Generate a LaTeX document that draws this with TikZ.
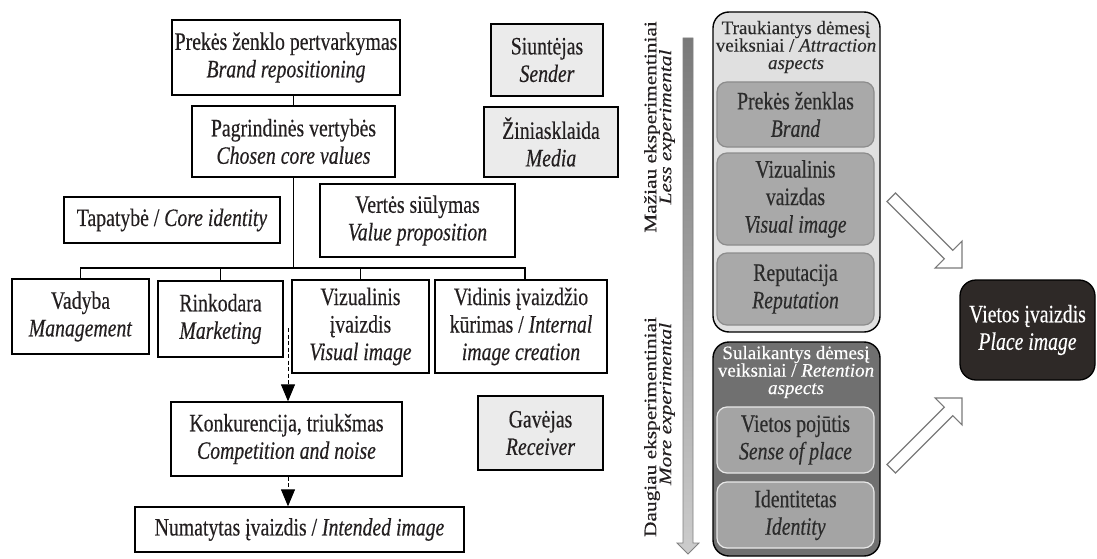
\documentclass[tikz,border=0pt]{standalone}
\usepackage{fontspec}
\setmainfont{Liberation Serif}[FakeStretch=0.79, FakeBold=0.35]
\newfontfamily\rotfont{Liberation Serif}[FakeStretch=1.22, FakeBold=0.35]
\newfontfamily\titlefont{Liberation Serif}[FakeStretch=1.0, FakeBold=0.3]
\usetikzlibrary{arrows.meta}
\definecolor{txt}{HTML}{231F20}
\definecolor{lightbox}{HTML}{EBEBEB}
\definecolor{panelA}{HTML}{E0E0E0}
\definecolor{innerA}{HTML}{A9A9A9}
\definecolor{innerAline}{HTML}{8C8C8C}
\definecolor{panelB}{HTML}{707070}
\definecolor{innerB}{HTML}{A4A4A4}
\definecolor{innerBline}{HTML}{E8E8E8}
\definecolor{placec}{HTML}{2E2927}
\definecolor{innertxt}{HTML}{2B2B2B}
\definecolor{hollowline}{HTML}{7A7A7A}
\newcommand\mainsz{\fontsize{25}{27.5}\selectfont}
\newcommand\titlesz{\titlefont\fontsize{19}{17.5}\selectfont}
\newcommand\rotsz{\rotfont\fontsize{17.5}{18}\selectfont}
\begin{document}
\begin{tikzpicture}[x=1pt,y=-1pt,
  wbox/.style={draw=black, line width=1.3pt, fill=white, align=center, inner sep=0pt, text=txt, font=\mainsz},
  gbox/.style={wbox, fill=lightbox},
  ibox/.style={draw=innerAline, line width=1.2pt, fill=innerA, rounded corners=10pt, align=center, inner sep=0pt, text=innertxt, font=\mainsz, minimum width=157},
  jbox/.style={ibox, draw=innerBline, fill=innerB},
  panel/.style={draw=black, line width=1.4pt, rounded corners=16pt, minimum width=167, inner sep=0pt},
  conn/.style={draw=black, line width=1.2pt},
  dasharrow/.style={draw=black, line width=1pt, dash pattern=on 4pt off 2.5pt, -{Triangle[width=14pt,length=17pt]}},
  rottext/.style={rotate=90, font=\rotsz, text=txt, inner sep=0pt},
  hollow/.style={draw=hollowline, line width=1.2pt, fill=white, line join=miter}
]
\path[use as bounding box] (0,0) rectangle (1097,559);

% ---------- left: hierarchy ----------
\node[wbox, minimum width=228, minimum height=75] (repos) at (286,57.5) {Prekės ženklo pertvarkymas\\\textit{Brand repositioning}};
\node[wbox, minimum width=203, minimum height=71] (values) at (293.5,141.5) {Pagrindinės vertybės\\\textit{Chosen core values}};
\node[wbox, minimum width=216, minimum height=46] (ident) at (172,220) {Tapatybė / \textit{Core identity}};
\node[wbox, minimum width=195, minimum height=73] (valprop) at (417.5,220.5) {Vertės siūlymas\\\textit{Value proposition}};
\node[wbox, minimum width=137, minimum height=75] (mgmt) at (80.5,316.5) {Vadyba\\\textit{Management}};
\node[wbox, minimum width=125, minimum height=76] (mkt) at (220.5,319) {Rinkodara\\\textit{Marketing}};
\node[wbox, minimum width=137, minimum height=93] (vis) at (360.5,326.5) {Vizualinis\\įvaizdis\\\textit{Visual image}};
\node[wbox, minimum width=172, minimum height=93] (internal) at (521,326.5) {Vidinis įvaizdžio\\kūrimas / \textit{Internal}\\\textit{image creation}};
\node[wbox, minimum width=231, minimum height=74] (comp) at (286.5,439) {Konkurencija, triukšmas\\\textit{Competition and noise}};
\node[wbox, minimum width=329, minimum height=45] (intended) at (299.5,529.5) {Numatytas įvaizdis / \textit{Intended image}};

\node[gbox, minimum width=112, minimum height=72] (sender) at (547,60) {Siuntėjas\\\textit{Sender}};
\node[gbox, minimum width=134, minimum height=70] (media) at (551,142) {Žiniasklaida\\\textit{Media}};
\node[gbox, minimum width=125, minimum height=74] (receiver) at (540.5,433) {Gavėjas\\\textit{Receiver}};

\coordinate (bar) at (0,268);
\coordinate (barR) at (525,268);
\draw[conn] (values.north) -- (values.north |- repos.south);
\draw[conn] (values.south) -- (values.south |- bar);
\draw[conn] (mgmt.north) -- (mgmt.north |- bar) -- (barR) -- (barR |- internal.north);
\draw[conn] (mkt.north) -- (mkt.north |- bar);
\draw[conn] (vis.north) -- (vis.north |- bar);

\coordinate (dstart) at (288,328);
\draw[dasharrow] (dstart) -- (dstart |- comp.north);
\draw[dasharrow] (dstart |- comp.south) -- (dstart |- intended.north);

% ---------- middle: experimental scale ----------
\node[rottext] (mz1) at (652,127) {Mažiau eksperimentiniai};
\node[rottext] (mz2) at (667,127) {\textit{Less experimental}};
\node[rottext] (dg1) at (652,427) {Daugiau eksperimentiniai};
\node[rottext] (dg2) at (667,404) {\textit{More experimental}};
\coordinate (vtop) at (688,38);
\coordinate (vtip) at (688,554);
\path[draw=gray, line width=0.8pt, top color=gray!95!black, bottom color=gray!40]
  ([xshift=-5pt]vtop) -- ([xshift=5pt]vtop) -- ([xshift=5pt,yshift=11pt]vtip) -- ([xshift=11pt,yshift=11pt]vtip)
  -- (vtip) -- ([xshift=-11pt,yshift=11pt]vtip) -- ([xshift=-5pt,yshift=11pt]vtip) -- cycle;

% ---------- right: attraction / retention panels ----------
\node[panel, fill=panelA, minimum height=320] (attr) at (796.5,172) {};
\node[font=\titlesz, align=center, text=innertxt, inner sep=0pt] (attrT) at (796,47) {Traukiantys dėmesį\\veiksniai / \textit{Attraction}\\\textit{aspects}};
\node[ibox, minimum height=65] (brand) at (795.5,114.5) {Prekės ženklas\\\textit{Brand}};
\node[ibox, minimum height=92] (vimg) at (795.5,199) {Vizualinis\\vaizdas\\\textit{Visual image}};
\node[ibox, minimum height=72] (rep) at (795.5,289) {Reputacija\\\textit{Reputation}};

\node[panel, fill=panelB, minimum height=214] (ret) at (796.5,449) {};
\node[font=\titlesz, align=center, text=white, inner sep=0pt] (retT) at (796,372) {Sulaikantys dėmesį\\veiksniai / \textit{Retention}\\\textit{aspects}};
\node[jbox, minimum height=66] (sense) at (795.5,440) {Vietos pojūtis\\\textit{Sense of place}};
\node[jbox, minimum height=66] (identity) at (795.5,515) {Identitetas\\\textit{Identity}};

\node[draw=black, line width=1.3pt, fill=placec, rounded corners=16pt, minimum width=135, minimum height=100, inner sep=0pt, align=center, text=white, font=\mainsz] (place) at (1027.5,330) {Vietos įvaizdis\\\textit{Place image}};

% hollow block arrows
\coordinate (tipA) at (962,268);
\coordinate (tipB) at (962,398);
\begin{scope}[shift={(tipA)}, rotate=-45]
  \path[hollow] (0,0) -- (-19,19) -- (-19,6) -- (-100,6) -- (-100,-6) -- (-19,-6) -- (-19,-19) -- cycle;
\end{scope}
\begin{scope}[shift={(tipB)}, rotate=45]
  \path[hollow] (0,0) -- (-19,19) -- (-19,6) -- (-100,6) -- (-100,-6) -- (-19,-6) -- (-19,-19) -- cycle;
\end{scope}
\end{tikzpicture}
\end{document}
